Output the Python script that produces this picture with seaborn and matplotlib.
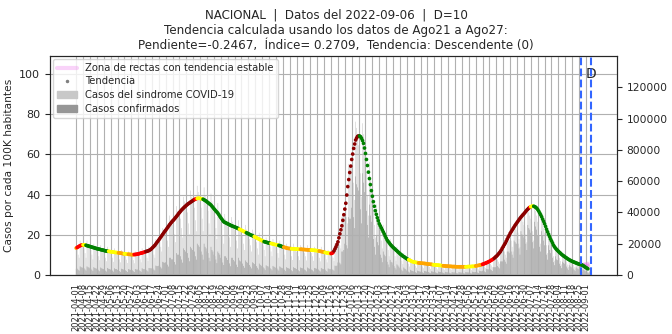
import numpy as np
import pandas as pd
import matplotlib
matplotlib.use("Agg")
import matplotlib.pyplot as plt
import seaborn as sns
from matplotlib.lines import Line2D
from matplotlib.patches import Patch
from matplotlib.ticker import FixedLocator, MultipleLocator

sns.set_style("white")
plt.rcParams['font.family'] = ['DejaVu Sans']

# ---------------- data ----------------
fecha_inicio = "2021-04-01"
fecha_datos = "2022-09-06"

# trend (cases per 100K), one value per day starting 2021-04-01
tendencia = [
    13.4, 13.7, 14.0, 14.3, 14.6, 14.8, 14.9, 15.0, 15.0, 14.9, 14.8,
    14.6, 14.5, 14.3, 14.2, 14.0, 13.9, 13.7, 13.6, 13.4, 13.3,
    13.1, 13.0, 12.9, 12.8, 12.6, 12.5, 12.4, 12.3, 12.1, 12.0,
    11.9, 11.8, 11.8, 11.7, 11.6, 11.5, 11.5, 11.4, 11.3, 11.2,
    11.2, 11.1, 11.0, 11.0, 10.9, 10.8, 10.7, 10.6, 10.6, 10.5,
    10.4, 10.4, 10.3, 10.3, 10.2, 10.2, 10.1, 10.1, 10.2, 10.2,
    10.3, 10.4, 10.5, 10.6, 10.8, 10.9, 11.0, 11.2, 11.3, 11.5,
    11.7, 11.8, 12.0, 12.2, 12.5, 12.8, 13.3, 13.8, 14.3, 14.8,
    15.5, 16.2, 16.8, 17.5, 18.2, 18.9, 19.6, 20.3, 21.0, 21.7,
    22.3, 23.0, 23.7, 24.4, 25.1, 25.7, 26.3, 26.9, 27.4, 28.0,
    28.6, 29.2, 29.8, 30.5, 31.1, 31.7, 32.3, 32.8, 33.3, 33.8,
    34.2, 34.7, 35.1, 35.5, 35.8, 36.2, 36.5, 36.8, 37.2, 37.5,
    37.7, 38.0, 38.1, 38.2, 38.2, 38.1, 38.0, 37.9, 37.7, 37.4,
    37.1, 36.8, 36.4, 36.0, 35.6, 35.2, 34.8, 34.2, 33.6, 33.0,
    32.4, 31.8, 31.3, 30.7, 30.0, 29.2, 28.5, 27.8, 27.1, 26.5,
    26.2, 26.0, 25.7, 25.5, 25.2, 25.0, 24.7, 24.5, 24.3, 24.1,
    24.0, 23.7, 23.5, 23.3, 23.0, 22.8, 22.5, 22.3, 22.0, 21.8,
    21.5, 21.3, 21.0, 20.8, 20.5, 20.3, 20.0, 19.8, 19.6, 19.3,
    19.1, 18.8, 18.6, 18.3, 18.1, 17.8, 17.6, 17.3, 17.1, 16.8,
    16.6, 16.5, 16.3, 16.2, 16.0, 15.9, 15.8, 15.7, 15.6, 15.4,
    15.3, 15.2, 15.1, 15.0, 14.9, 14.7, 14.6, 14.4, 14.2, 14.0,
    13.9, 13.7, 13.6, 13.4, 13.3, 13.2, 13.2, 13.1, 13.1, 13.0,
    13.0, 13.0, 12.9, 12.9, 12.9, 12.8, 12.8, 12.8, 12.8, 12.7,
    12.7, 12.7, 12.6, 12.6, 12.5, 12.5, 12.5, 12.4, 12.4, 12.4,
    12.3, 12.3, 12.2, 12.2, 12.1, 12.0, 11.9, 11.8, 11.7, 11.6,
    11.5, 11.4, 11.2, 11.1, 11.0, 10.9, 10.8, 10.7, 10.7, 10.8,
    11.2, 12.0, 13.0, 14.0, 15.2, 16.5, 18.5, 20.5, 22.5, 24.5,
    27.2, 30.0, 32.8, 35.7, 39.8, 44.0, 47.5, 51.0, 54.2, 57.5,
    60.2, 63.0, 65.2, 67.2, 68.2, 69.0, 69.2, 69.2, 68.8, 68.0,
    66.9, 65.5, 63.2, 60.5, 57.5, 54.5, 51.2, 48.0, 45.0, 42.0,
    39.2, 36.5, 34.2, 32.0, 30.2, 28.5, 27.0, 25.5, 24.5, 23.5,
    22.5, 21.5, 20.5, 19.4, 18.4, 17.4, 16.7, 16.1, 15.4, 14.8,
    14.3, 13.8, 13.3, 12.9, 12.4, 12.0, 11.5, 11.1, 10.6, 10.2,
    9.8, 9.4, 9.1, 8.8, 8.4, 8.1, 7.8, 7.6, 7.3, 7.1,
    6.8, 6.6, 6.5, 6.4, 6.3, 6.2, 6.1, 6.0, 6.0, 5.9,
    5.9, 5.8, 5.8, 5.7, 5.7, 5.6, 5.5, 5.4, 5.4, 5.3,
    5.3, 5.2, 5.1, 5.1, 5.0, 5.0, 4.9, 4.9, 4.8, 4.8,
    4.7, 4.6, 4.6, 4.5, 4.5, 4.4, 4.4, 4.4, 4.3, 4.3,
    4.3, 4.2, 4.2, 4.2, 4.2, 4.1, 4.1, 4.1, 4.1, 4.1,
    4.1, 4.1, 4.1, 4.1, 4.1, 4.1, 4.1, 4.2, 4.2, 4.2,
    4.2, 4.3, 4.3, 4.3, 4.4, 4.5, 4.6, 4.7, 4.8, 4.9,
    5.0, 5.2, 5.3, 5.5, 5.7, 5.9, 6.1, 6.3, 6.6, 6.8,
    7.1, 7.4, 7.7, 8.0, 8.4, 8.9, 9.3, 9.8, 10.4, 11.0,
    11.6, 12.4, 13.3, 14.1, 15.0, 15.8, 16.8, 17.8, 18.8, 19.7,
    20.7, 21.5, 22.3, 23.1, 23.9, 24.7, 25.4, 26.1, 26.8, 27.5,
    28.2, 28.8, 29.4, 30.0, 30.5, 31.1, 31.7, 32.3, 32.8, 33.3,
    33.7, 34.0, 34.2, 34.3, 34.2, 34.0, 33.7, 33.2, 32.6, 31.8,
    30.9, 30.0, 29.0, 27.8, 26.7, 25.5, 24.2, 22.8, 21.5, 20.3,
    19.2, 18.0, 17.0, 16.0, 14.9, 14.1, 13.4, 12.8, 12.3, 11.8,
    11.3, 10.9, 10.4, 10.0, 9.6, 9.3, 8.9, 8.6, 8.2, 7.9,
    7.6, 7.3, 7.1, 6.8, 6.6, 6.4, 6.2, 6.0, 5.8, 5.6,
    5.4, 5.3, 5.1, 5.0, 4.7, 4.4, 4.0, 3.7, 3.4, 3.1,
]

# trend classification runs: (class, number of days)
clase_runs = [
    ("O", 1), ("R", 6), ("Y", 3), ("G", 23), ("Y", 10), ("O", 6), ("Y", 4),
    ("O", 6), ("R", 12), ("DR", 50), ("R", 2), ("Y", 6), ("G", 37), ("Y", 7),
    ("G", 8), ("Y", 10), ("G", 7), ("Y", 8), ("G", 5), ("O", 8), ("Y", 9),
    ("O", 11), ("Y", 8), ("O", 6), ("Y", 6), ("R", 3), ("DR", 26), ("G", 50),
    ("Y", 10), ("O", 15), ("Y", 10), ("O", 23), ("Y", 10), ("O", 7), ("R", 12),
    ("DR", 36), ("R", 1), ("Y", 3), ("G", 56),
]

# daily cases (thousands), syndrome COVID-19 (light bars)
casos_sindrome_k = [
    16, 16, 13, 11, 22, 20, 19,
    18, 17, 14, 11, 22, 20, 19,
    17, 16, 13, 10, 20, 18, 17,
    16, 15, 12, 9.5, 19, 17, 16,
    15, 14, 11, 8.8, 18, 16, 15,
    14, 13, 11, 8.4, 17, 15, 15,
    13, 13, 10, 8.1, 16, 15, 14,
    13, 12, 9.8, 7.7, 15, 14, 13,
    12, 12, 9.5, 7.5, 15, 14, 14,
    13, 12, 10, 8.1, 17, 15, 15,
    14, 13, 11, 8.9, 18, 17, 17,
    16, 16, 13, 11, 23, 22, 22,
    21, 21, 18, 15, 30, 29, 28,
    27, 26, 22, 18, 38, 35, 34,
    32, 31, 26, 21, 44, 41, 40,
    37, 36, 30, 24, 50, 47, 44,
    42, 40, 33, 26, 54, 50, 48,
    45, 43, 35, 28, 57, 53, 50,
    46, 43, 36, 28, 56, 51, 48,
    44, 41, 33, 26, 52, 47, 44,
    40, 37, 30, 23, 46, 41, 38,
    34, 32, 25, 20, 39, 36, 33,
    31, 29, 24, 18, 37, 34, 31,
    29, 27, 22, 17, 35, 31, 29,
    27, 25, 20, 16, 32, 29, 27,
    25, 23, 19, 15, 29, 27, 25,
    23, 21, 17, 13, 27, 24, 22,
    21, 19, 16, 12, 24, 22, 21,
    19, 18, 15, 12, 23, 21, 20,
    18, 17, 14, 11, 22, 20, 18,
    17, 16, 13, 10, 20, 18, 17,
    16, 15, 12, 9.6, 20, 18, 17,
    15, 15, 12, 9.5, 19, 18, 17,
    15, 14, 12, 9.3, 19, 17, 16,
    15, 14, 12, 9.1, 18, 17, 16,
    15, 14, 11, 8.7, 18, 16, 15,
    14, 13, 10, 8.1, 16, 15, 14,
    13, 12, 11, 8.9, 20, 19, 20,
    20, 21, 19, 17, 37, 38, 39,
    39, 41, 37, 33, 71, 70, 70,
    69, 69, 59, 48, 98, 94, 90,
    83, 79, 65, 50, 97, 90, 82,
    73, 66, 51, 38, 72, 62, 55,
    47, 42, 32, 24, 45, 39, 35,
    31, 28, 22, 17, 32, 28, 25,
    22, 20, 16, 12, 23, 20, 19,
    17, 15, 12, 9.2, 18, 16, 14,
    13, 12, 9.2, 7.0, 14, 12, 11,
    9.7, 8.9, 7.1, 5.4, 11, 9.4, 8.6,
    7.8, 7.3, 5.9, 4.6, 9.2, 8.3, 7.8,
    7.1, 6.7, 5.5, 4.3, 8.6, 7.9, 7.3,
    6.6, 6.2, 5.1, 3.9, 8.0, 7.2, 6.6,
    6.1, 5.7, 4.7, 3.6, 7.4, 6.6, 6.2,
    5.6, 5.2, 4.3, 3.3, 6.8, 6.1, 5.7,
    5.3, 4.9, 4.0, 3.2, 6.3, 5.8, 5.5,
    5.0, 4.7, 3.9, 3.0, 6.2, 5.7, 5.3,
    4.9, 4.7, 3.9, 3.0, 6.2, 5.7, 5.5,
    5.0, 4.8, 3.9, 3.2, 6.5, 5.9, 5.7,
    5.4, 5.2, 4.4, 3.6, 7.4, 6.9, 6.8,
    6.4, 6.3, 5.4, 4.4, 9.2, 8.7, 8.6,
    7.1, 7.1, 6.1, 5.0, 10, 10, 10,
    9.8, 9.8, 8.5, 7.2, 15, 15, 15,
    15, 15, 13, 11, 23, 23, 22,
    22, 22, 18, 15, 31, 30, 29,
    27, 27, 23, 18, 38, 36, 34,
    32, 31, 26, 21, 43, 40, 38,
    36, 34, 28, 22, 45, 41, 38,
    34, 32, 25, 20, 38, 34, 30,
    27, 24, 19, 14, 27, 23, 20,
    18, 16, 12, 9.2, 18, 15, 14,
    12, 11, 8.9, 6.8, 13, 12, 11,
    9.3, 8.6, 6.7, 5.1, 10, 8.8, 8.0,
    7.1, 6.6, 5.2, 4.0, 7.9, 7.0, 6.3,
    5.7, 5.3, 4.2, 3.3, 6.2, 5.3, 4.5,
    3.9, 3.4, 2.5, 1.9, 3.5, 2.6,
]

# daily confirmed cases (thousands), darker bars
casos_confirmados_k = [
    4.0, 4.0, 3.3, 2.8, 5.5, 5.0, 4.8,
    4.5, 4.3, 3.5, 2.8, 5.5, 5.0, 4.8,
    4.3, 4.0, 3.3, 2.5, 5.0, 4.5, 4.3,
    4.0, 3.8, 3.0, 2.4, 4.8, 4.3, 4.0,
    3.8, 3.5, 2.8, 2.2, 4.5, 4.0, 3.8,
    3.5, 3.3, 2.8, 2.1, 4.3, 3.8, 3.8,
    3.3, 3.3, 2.5, 2.0, 4.0, 3.8, 3.5,
    3.3, 3.0, 2.5, 1.9, 3.8, 3.5, 3.3,
    3.0, 3.0, 2.4, 1.9, 3.8, 3.5, 3.5,
    3.3, 3.0, 2.5, 2.0, 4.3, 3.8, 3.8,
    3.5, 3.3, 2.8, 2.2, 4.5, 4.3, 4.3,
    4.2, 4.2, 3.4, 2.9, 6.0, 5.7, 5.7,
    5.9, 5.9, 5.0, 4.2, 8.4, 8.1, 7.8,
    8.1, 7.8, 6.6, 5.4, 11, 11, 10,
    10, 9.9, 8.3, 6.7, 14, 13, 13,
    12, 12, 9.9, 7.9, 17, 16, 15,
    14, 14, 11, 8.8, 18, 17, 16,
    16, 15, 12, 9.8, 20, 19, 18,
    16, 15, 13, 9.8, 20, 18, 17,
    15, 14, 11, 8.8, 18, 16, 15,
    13, 12, 9.9, 7.6, 15, 14, 13,
    11, 10, 8.0, 6.4, 12, 12, 11,
    9.6, 9.0, 7.4, 5.6, 11, 11, 9.6,
    8.7, 8.1, 6.6, 5.1, 11, 9.3, 8.7,
    7.8, 7.3, 5.8, 4.6, 9.3, 8.4, 7.8,
    7.0, 6.4, 5.3, 4.2, 8.1, 7.6, 7.0,
    6.2, 5.7, 4.6, 3.5, 7.3, 6.5, 5.9,
    5.5, 4.9, 4.2, 3.1, 6.2, 5.7, 5.5,
    4.8, 4.5, 3.8, 3.0, 5.8, 5.3, 5.0,
    4.5, 4.3, 3.5, 2.8, 5.5, 5.0, 4.5,
    4.3, 4.0, 3.3, 2.5, 5.0, 4.5, 4.3,
    4.0, 3.8, 3.0, 2.4, 5.0, 4.5, 4.3,
    3.8, 3.8, 3.0, 2.4, 4.8, 4.5, 4.3,
    3.8, 3.5, 3.0, 2.3, 4.8, 4.3, 4.0,
    3.8, 3.5, 3.0, 2.3, 4.5, 4.3, 4.0,
    3.8, 3.5, 2.8, 2.2, 4.5, 4.0, 3.8,
    3.6, 3.4, 2.6, 2.1, 4.2, 3.9, 3.6,
    3.9, 3.6, 3.3, 2.7, 6.0, 5.7, 6.0,
    8.0, 8.4, 7.6, 6.8, 15, 15, 16,
    20, 21, 19, 17, 37, 36, 36,
    43, 43, 37, 30, 63, 58, 56,
    54, 51, 42, 33, 65, 59, 53,
    45, 41, 32, 24, 45, 38, 34,
    26, 23, 18, 13, 25, 21, 19,
    15, 13, 11, 8.2, 15, 13, 12,
    9.2, 8.4, 6.7, 5.0, 9.7, 8.4, 8.0,
    6.5, 5.7, 4.6, 3.5, 6.8, 6.1, 5.3,
    4.4, 4.1, 3.1, 2.4, 4.8, 4.1, 3.7,
    2.9, 2.7, 2.1, 1.6, 3.3, 2.8, 2.6,
    2.3, 2.2, 1.8, 1.4, 2.8, 2.5, 2.3,
    2.1, 2.0, 1.7, 1.3, 2.6, 2.4, 2.2,
    2.0, 1.9, 1.5, 1.2, 2.4, 2.2, 2.0,
    1.8, 1.7, 1.4, 1.1, 2.2, 2.0, 1.9,
    1.7, 1.6, 1.3, 1.0, 2.0, 1.8, 1.7,
    1.6, 1.5, 1.2, 1.0, 1.9, 1.7, 1.7,
    1.5, 1.4, 1.2, 0.9, 1.9, 1.7, 1.6,
    1.5, 1.4, 1.2, 0.9, 1.9, 1.7, 1.7,
    1.6, 1.5, 1.2, 1.0, 2.1, 1.9, 1.8,
    1.9, 1.9, 1.6, 1.3, 2.7, 2.5, 2.4,
    2.7, 2.6, 2.3, 1.8, 3.9, 3.7, 3.6,
    3.6, 3.6, 3.1, 2.5, 5.0, 5.0, 5.0,
    5.7, 5.7, 4.9, 4.2, 8.7, 8.7, 8.7,
    9.8, 9.8, 8.5, 7.2, 15, 15, 14,
    15, 15, 13, 11, 22, 21, 20,
    20, 20, 17, 13, 28, 26, 25,
    24, 23, 20, 16, 32, 30, 29,
    27, 26, 21, 17, 34, 31, 29,
    25, 23, 18, 15, 28, 25, 22,
    19, 17, 13, 9.8, 19, 16, 14,
    12, 11, 8.2, 6.3, 12, 10, 9.5,
    7.8, 7.2, 5.8, 4.4, 8.5, 7.8, 7.2,
    5.9, 5.4, 4.2, 3.2, 6.3, 5.5, 5.0,
    4.4, 4.1, 3.2, 2.5, 4.9, 4.3, 3.9,
    3.4, 3.2, 2.5, 2.0, 3.7, 3.2, 2.7,
    2.3, 2.0, 1.5, 1.1, 2.1, 1.6,
]

# stable-trend zone: fan of lines from anchor day/value to end values
zona_dia_inicio = 513
zona_dia_fin = 520
zona_valor_inicio = 5.0
zona_valores_fin = [4.2, 4.6, 5.0, 5.4, 5.8]

# vertical markers: end of trend window (Ago27) and data date
dia_ventana = 513
dia_datos = 523

titulo = ("NACIONAL  |  Datos del 2022-09-06  |  D=10\n"
          "Tendencia calculada usando los datos de Ago21 a Ago27:\n"
          "Pendiente=-0.2467,  Índice= 0.2709,  Tendencia: Descendente (0)")

# ---------------- build frames ----------------
fechas = pd.date_range(fecha_inicio, fecha_datos, freq="D")
dias_barras = np.arange(len(casos_sindrome_k))
df_barras = pd.DataFrame({
    "dia": dias_barras,
    "sindrome": np.array(casos_sindrome_k) * 1000,
    "confirmados": np.array(casos_confirmados_k) * 1000,
})
clases = []
for c, n in clase_runs:
    clases += [c] * n
df_tend = pd.DataFrame({"dia": np.arange(len(tendencia)),
                        "valor": tendencia, "clase": clases})
paleta = {"DR": "#8b0000", "R": "#ff0000", "O": "#ffa500",
          "Y": "#ffff00", "G": "#008000"}

# ---------------- plot ----------------
fig = plt.figure(figsize=(6.72, 3.34), dpi=100)
ax = fig.add_axes([50 / 672, 1 - 275 / 334, 567 / 672, 219 / 334])
ax2 = ax.twinx()

col_sind = "#c8c8c8"
col_conf = "#969696"
sns.barplot(data=df_barras, x="dia", y="sindrome", native_scale=True,
            color=col_sind, saturation=1, width=0.55, errorbar=None,
            linewidth=0, edgecolor="none", snap=False, ax=ax2)
sns.barplot(data=df_barras, x="dia", y="confirmados", native_scale=True,
            color=col_conf, saturation=1, width=0.55, errorbar=None,
            linewidth=0, edgecolor="none", snap=False, ax=ax2)

ax.set_zorder(ax2.get_zorder() + 1)
ax.patch.set_visible(False)

for v in zona_valores_fin:
    ax.plot([zona_dia_inicio, zona_dia_fin], [zona_valor_inicio, v],
            color="violet", alpha=0.35, lw=2.5, zorder=2)

sns.scatterplot(data=df_tend, x="dia", y="valor", hue="clase", palette=paleta,
                s=7, linewidth=0, legend=False, ax=ax, zorder=3)

ax.axvline(dia_ventana, color="#3366ff", ls="--", lw=1.5, zorder=4)
ax.axvline(dia_datos, color="#3366ff", ls="--", lw=1.5, zorder=4)
ax.text(dia_ventana + 5, 100, "D", fontsize=10, ha="left", va="center")

xmin, xmax = -26.6, len(dias_barras) - 1 + 26.6
ax.set_xlim(xmin, xmax)
ax2.set_xlim(xmin, xmax)
ax.set_ylim(0, 109)
ax2.set_ylim(0, 140000)

tick_pos = np.arange(0, len(fechas), 7)
tick_lab = [fechas[i].strftime("%Y-%m-%d") for i in tick_pos]
ax.xaxis.set_major_locator(FixedLocator(tick_pos))
ax.set_xticklabels(tick_lab, rotation=90, fontsize=6)
ax.xaxis.set_minor_locator(MultipleLocator(2))
ax.tick_params(axis="x", which="minor", length=2)
ax.tick_params(axis="x", which="major", length=3.5, pad=2)
ax.set_yticks([0, 20, 40, 60, 80, 100])
ax.tick_params(axis="y", labelsize=8)
ax2.set_yticks([0, 20000, 40000, 60000, 80000, 100000, 120000])
ax2.tick_params(axis="y", labelsize=7.7)
ax2.set_xlabel("")
ax.set_xlabel("")
ax.set_ylabel("Casos por cada 100K habitantes", fontsize=7.7)
ax2.set_ylabel("Casos netos", fontsize=7.7)
ax.grid(True, which="major", color="#b0b0b0", lw=0.8)
ax2.grid(False)

handles = [
    Line2D([], [], color="violet", alpha=0.35, lw=3),
    Line2D([], [], color="gray", marker=".", ls="", markersize=3),
    Patch(color=col_sind),
    Patch(color=col_conf),
]
labels = ["Zona de rectas con tendencia estable", "Tendencia",
          "Casos del sindrome COVID-19", "Casos confirmados"]
ax.legend(handles, labels, loc="upper left", fontsize=7.2, framealpha=0.8,
          handlelength=2, borderaxespad=0.3, labelspacing=0.35)

fig.suptitle(titulo, fontsize=8.6, y=0.975, linespacing=1.25)

fig.savefig("out.png", dpi=100)
